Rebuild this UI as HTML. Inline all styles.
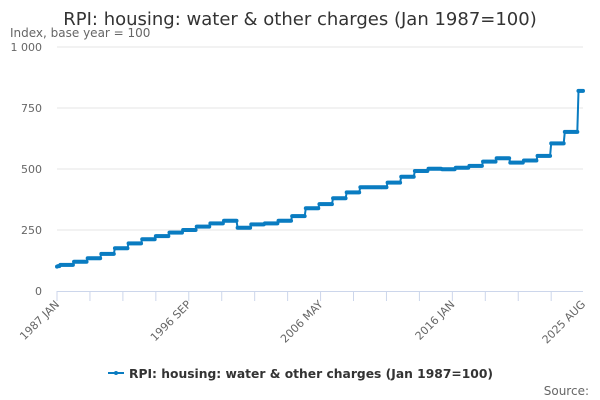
<!DOCTYPE html>
<html><head><meta charset="utf-8"><style>
html,body{margin:0;padding:0;background:#fff;}
svg{display:block;font-family:"DejaVu Sans","Liberation Sans",sans-serif;}
</style></head><body>
<svg id="chart" width="600" height="400" viewBox="0 0 600 400">
<text x="300" y="25" text-anchor="middle" font-size="18" fill="#333">RPI: housing: water &amp; other charges (Jan 1987=100)</text>
<text x="10" y="37" font-size="12" fill="#666">Index, base year = 100</text>
<g id="grid"></g>
<g id="xaxis"></g>
<g id="series"></g>
<g>
<line x1="108" y1="373" x2="124" y2="373" stroke="#0a7cc1" stroke-width="2"/>
<circle cx="116" cy="373" r="2" fill="#0a7cc1"/>
<text x="129" y="378" font-size="12.3" font-weight="bold" fill="#333">RPI: housing: water &amp; other charges (Jan 1987=100)</text>
</g>
<text x="589" y="395" text-anchor="end" font-size="12" fill="#666">Source:</text>
</svg>
<script>
const startYear = 1987;
const janToMar1987 = [100, 102, 102];
// value from April of each year through March of the next
const aprilLevels = [107,120,134,152,175,195,212,225,239,250,264,277,288,259,273,277,288,307,339,356,380,404,425,425,444,468,492,501,499,505,513,530,544,526,535,554,605,652,820];
const yTicks = [0,250,500,750,1000];
const yTickLabels = ["0","250","500","750","1 000"];
const xLabels = ["1987 JAN","1996 SEP","2006 MAY","2016 JAN","2025 AUG"];
const totalMonths = 464; // 1987 Jan .. 2025 Aug

const x0=57,x1=583,y0=291,y1=47;
const xS = m => x0 + m*(x1-x0)/(totalMonths-1);
const yS = v => y0 - v*(y0-y1)/1000;
const NS="http://www.w3.org/2000/svg";
function mk(t,a,p){const e=document.createElementNS(NS,t);for(const k in a)e.setAttribute(k,a[k]);p.appendChild(e);return e;}

const values=[...janToMar1987];
for(let m=3;m<totalMonths;m++){values.push(aprilLevels[Math.floor((m-3)/12)]);}

const grid=document.getElementById('grid');
yTicks.forEach((v,i)=>{
  if(i>0){const l=mk('line',{x1:x0,x2:x1,y1:yS(v),y2:yS(v),stroke:'#e6e6e6','stroke-width':1},grid);
  
  }
  const t=mk('text',{x:42,y:yS(v)+4,'text-anchor':'end','font-size':11,fill:'#666'},grid);
  t.textContent=yTickLabels[i];
  
  
});
const xa=document.getElementById('xaxis');
mk('line',{x1:x0,x2:x1,y1:y0+0.5,y2:y0+0.5,stroke:'#ccd6eb','stroke-width':1},xa);
for(let m=0;m<totalMonths;m+=29){
  mk('line',{x1:xS(m),x2:xS(m),y1:y0,y2:y0+10,stroke:'#ccd6eb','stroke-width':1},xa);
}
xLabels.forEach((s,i)=>{
  const m=i*116, x=xS(Math.min(m,totalMonths-1));
  const t=mk('text',{x:x+3,y:y0+14,'text-anchor':'end','font-size':11,fill:'#666',transform:`rotate(-45 ${x+3} ${y0+14})`},xa);
  t.textContent=s;
  
  
});
const g=document.getElementById('series');
const pts=values.map((v,m)=>xS(m).toFixed(1)+','+yS(v).toFixed(1)).join(' ');
const pl=mk('polyline',{points:pts,fill:'none',stroke:'#0a7cc1','stroke-width':2,'stroke-linejoin':'round'},g);


values.forEach((v,m)=>{
  const c=mk('circle',{cx:xS(m),cy:yS(v),r:2,fill:'#0a7cc1'},g);
  
  
});
</script>
</body></html>
